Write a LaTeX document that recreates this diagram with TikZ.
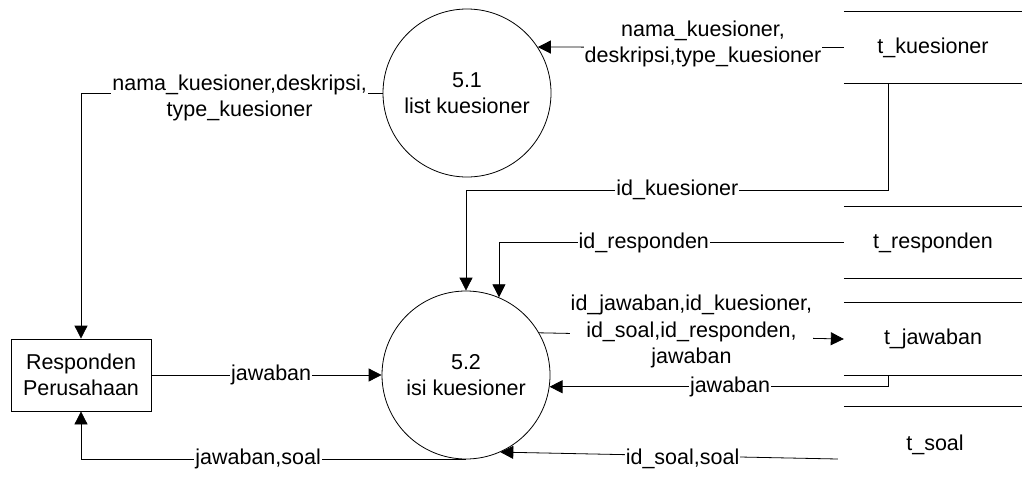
\documentclass[tikz,border=0pt]{standalone}
\usepackage{fontspec}
\setmainfont{Liberation Sans}
\usetikzlibrary{arrows.meta}
\tikzset{
  flow/.style={-{Triangle[length=13pt,width=13pt]}, line width=0.8pt},
  process/.style={draw, circle, minimum size=168pt, inner sep=0pt, align=center, line width=0.8pt},
  entity/.style={draw, minimum width=140pt, minimum height=72pt, align=center, line width=0.8pt},
  store/.style={minimum width=178pt, minimum height=71pt, inner sep=0pt},
  lbl/.style={fill=white, inner sep=1pt, align=center}
}

\begin{document}
\begin{tikzpicture}[x=1pt, y=-1pt, font=\fontsize{21.5}{26.5}\selectfont]
      \useasboundingbox (0,0) rectangle (1022,479);
      % Processes
      \node[process] (c51) at (467,93) {5.1\\list kuesioner};
      \node[process] (c52) at (466,375) {5.2\\isi kuesioner};
      % External entity
      \node[entity] (rp) at (81,375) {Responden\\Perusahaan};
      % Data stores: only top and bottom edges are drawn
      \node[store] (ks) at (933,47.5) {t\_kuesioner};
      \node[store] (rs) at (933,242.5) {t\_responden};
      \node[store, minimum height=72pt] (jw) at (933,339) {t\_jawaban};
      \node[store, minimum height=76pt] (sl) at (935,445) {t\_soal};
      \foreach \s in {ks,rs,jw}
        \draw[line width=0.8pt] (\s.north west) -- (\s.north east) (\s.south west) -- (\s.south east);
      \draw[line width=0.8pt] ([xshift=-2pt]sl.north west) -- (sl.north east);
      % Flows around 5.1
      \draw[flow] (ks.west) -- node[lbl, pos=0.46, yshift=3.5pt] {nama\_kuesioner,\\deskripsi,type\_kuesioner} (c51.33);
      \draw[flow] (c51.west) -| node[lbl, pos=0.237, yshift=-5pt] {nama\_kuesioner,deskripsi,\\type\_kuesioner} (rp.north);
      % Flows into 5.2 from the stores
      \draw[flow] ([xshift=45pt]ks.south west) -- ++(0,107) -| node[lbl, pos=0.25] {id\_kuesioner} (c52.north);
      \draw[flow] (rs.west) -| node[lbl, pos=0.29] {id\_responden} (c52.67.6);
      \draw[flow] (c52.30) -- node[lbl, pos=0.5, yshift=4pt] {id\_jawaban,id\_kuesioner,\\id\_soal,id\_responden,\\jawaban} (jw.west);
      \draw[flow] ([xshift=45pt]jw.south west) |- node[lbl, pos=0.734] {jawaban} (c52.-8.2);
      \draw[flow] ([shift={(-8pt,-14pt)}]sl.west) -- node[lbl, pos=0.46, yshift=-3pt] {id\_soal,soal} (c52.-66.4);
      % Flows between entity and 5.2
      \draw[flow] (c52.south) -| node[lbl, pos=0.27] {jawaban,soal} (rp.south);
      \draw[flow] (rp.east) -- node[lbl, pos=0.52] {jawaban} (c52.west);
\end{tikzpicture}
\end{document}
